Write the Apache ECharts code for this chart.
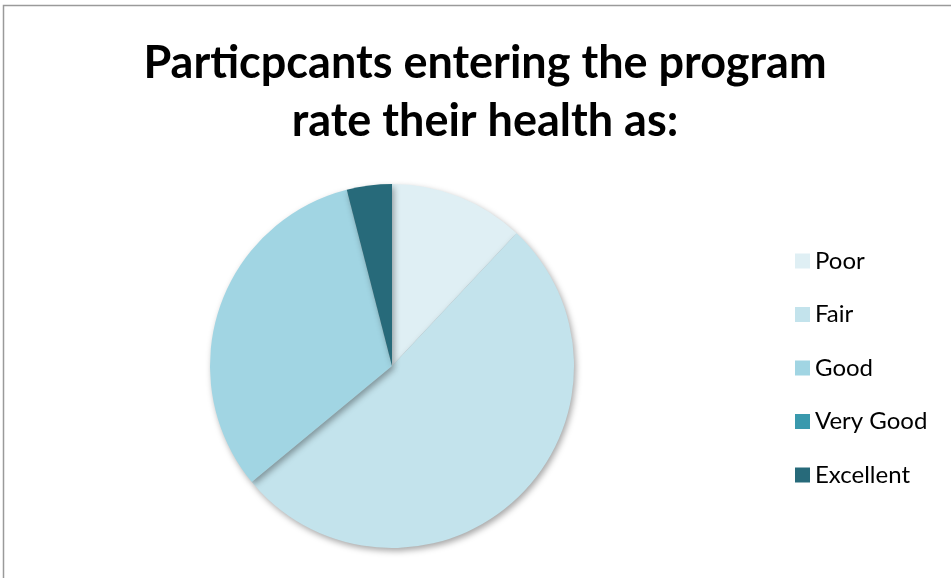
<!DOCTYPE html>
<html><head><meta charset="utf-8">
<script src="https://cdn.jsdelivr.net/npm/echarts@6/dist/echarts.min.js"></script>
<style>html,body{margin:0;padding:0;background:#fff}#c{width:951px;height:578px}</style>
</head><body><div id="c"></div>
<script>
const titleText = 'Particpcants entering the program\nrate their health as:';
const categories = ['Poor', 'Fair', 'Good', 'Very Good', 'Excellent'];
const values = [12, 52, 32, 0, 4];
const colors = ['#dfeff4', '#c3e3ec', '#a1d5e3', '#3a99ad', '#276a7a'];

const chart = echarts.init(document.getElementById('c'));
chart.setOption({
  animation: false,
  title: {
    text: titleText, left: 485, top: 34, textAlign: 'center', padding: 0,
    textStyle: { fontFamily: 'Lato', fontWeight: 'bold', fontSize: 45, lineHeight: 58, color: '#000' }
  },
  graphic: [{
    type: 'rect', shape: { x: 3.5, y: 5.5, width: 960, height: 600 },
    style: { fill: 'none', stroke: '#9a9a9a', lineWidth: 1.5 }, silent: true
  }],
  legend: {
    orient: 'vertical', left: 795, top: 249, padding: 0, itemWidth: 15, itemHeight: 15, itemGap: 29.5,
    icon: 'rect',
    textStyle: { fontFamily: 'Lato', fontSize: 24, lineHeight: 24, color: '#000' },
    data: categories
  },
  series: [{
    type: 'pie', center: [392, 366], radius: 182, startAngle: 90, clockwise: true,
    label: { show: false }, labelLine: { show: false }, stillShowZeroSum: true,
    itemStyle: { shadowBlur: 6, shadowOffsetX: 2, shadowOffsetY: 3, shadowColor: 'rgba(0,0,0,0.35)' },
    data: categories.map((n, i) => ({ name: n, value: values[i], itemStyle: { color: colors[i] } }))
  }]
});
</script></body></html>
